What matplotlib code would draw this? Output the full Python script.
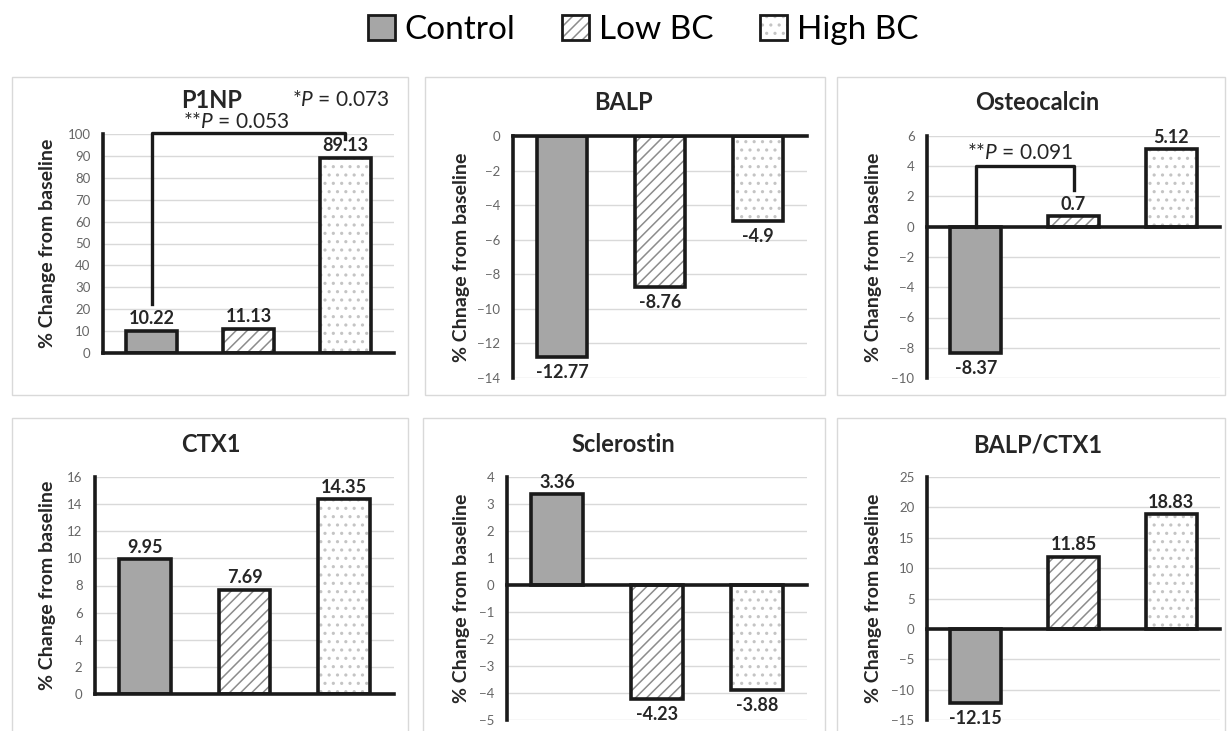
import matplotlib
matplotlib.use("Agg")
import matplotlib.pyplot as plt
from matplotlib.patches import Patch, Rectangle
from matplotlib.legend_handler import HandlerTuple

# ---------------- data ----------------
groups = ["Control", "Low BC", "High BC"]
p1np = [10.22, 11.13, 89.13]
balp = [-12.77, -8.76, -4.9]
osteocalcin = [-8.37, 0.7, 5.12]
ctx1 = [9.95, 7.69, 14.35]
sclerostin = [3.36, -4.23, -3.88]
balp_ctx1 = [-12.15, 11.85, 18.83]

titles = ["P1NP", "BALP", "Osteocalcin", "CTX1", "Sclerostin", "BALP/CTX1"]
ylabels = ["% Change from baseline", "% Chnage from baseline", "% Change from baseline",
           "% Change from baseline", "% Change from baseline", "% Change from baseline"]
yranges = [(0, 100, 10), (-14, 0, 2), (-10, 6, 2), (0, 16, 2), (-5, 4, 1), (-15, 25, 5)]
p_labels = ["*$\\it{P}$ = 0.073", "**$\\it{P}$ = 0.053", "**$\\it{P}$ = 0.091"]

# ---------------- style ----------------
plt.rcParams['font.family'] = ['Lato', 'DejaVu Sans']
plt.rcParams['mathtext.fontset'] = 'custom'
plt.rcParams['mathtext.rm'] = 'Lato'
plt.rcParams['mathtext.it'] = 'Lato:italic'
plt.rcParams['hatch.linewidth'] = 1.1

W, H = 1228, 731
fig = plt.figure(figsize=(W / 100, H / 100), dpi=100)

def fx(x):
    return x / W

def fy(y):
    return 1 - y / H

fills = ['#a6a6a6', 'white', 'white']
hatches = [None, '///', '..']
hatch_cols = ['#a6a6a6', '#8c8c8c', '#c4c4c4']
EDGE = '#1a1a1a'

# panel geometry in pixels: (axis x0, axis x1, y top, y bottom)
geo = [(103, 394, 134, 353), (513, 807, 136, 378), (927, 1220, 136, 378),
       (95, 394, 477, 694), (507, 807, 477, 720), (927, 1220, 477, 720)]
boxes = [(12, 77, 408, 395), (425, 77, 825, 395), (837, 77, 1225, 395),
         (12, 418, 408, 740), (423, 418, 825, 740), (837, 418, 1225, 740)]
title_pos = [(212, 100), (623, 103), (1037, 103), (211, 445), (623, 445), (1038, 445)]
ylabel_x = [47, 462, 873, 47, 462, 873]

data = [p1np, balp, osteocalcin, ctx1, sclerostin, balp_ctx1]
axes = []
for i, vals in enumerate(data):
    bx0, by0, bx1, by1 = boxes[i]
    fig.patches.append(Rectangle((fx(bx0), fy(by1)), fx(bx1 - bx0), (by1 - by0) / H,
                                 transform=fig.transFigure, fill=False,
                                 edgecolor='#d9d9d9', lw=1.0, zorder=0))
    x0, x1, yt, yb = geo[i]
    ax = fig.add_axes([fx(x0), fy(yb), fx(x1 - x0), (yb - yt) / H])
    axes.append(ax)
    lo, hi, st = yranges[i]
    ax.set_ylim(lo, hi)
    ax.set_xlim(-0.5, 2.5)
    ticks = list(range(lo, hi + 1, st))
    ax.set_yticks(ticks)
    ax.yaxis.grid(True, color='#d9d9d9', lw=1.0)
    ax.set_axisbelow(True)
    ax.set_xticks([])
    ax.tick_params(axis='y', length=0, pad=9, labelsize=9.5, labelcolor='#666666')
    for s in ['top', 'right', 'bottom']:
        ax.spines[s].set_visible(False)
    ax.spines['left'].set_linewidth(2.6)
    ax.spines['left'].set_color(EDGE)
    ax.axhline(0, color=EDGE, lw=2.6, zorder=4, clip_on=False)
    xs = range(len(vals))
    for j, v in zip(xs, vals):
        ax.bar(j, v, width=0.52, color=fills[j], hatch=hatches[j],
               edgecolor=hatch_cols[j], lw=0, zorder=2)
        ax.bar(j, v, width=0.52, fill=False, edgecolor=EDGE, lw=2.6, zorder=3)
        lab = str(v)
        if v >= 0:
            ax.annotate(lab, (j, v), xytext=(0, 2.5), textcoords='offset points',
                        ha='center', va='bottom', fontsize=13, fontweight='bold',
                        color='#262626', annotation_clip=False)
        else:
            ax.annotate(lab, (j, v), xytext=(0, -5), textcoords='offset points',
                        ha='center', va='top', fontsize=13, fontweight='bold',
                        color='#262626', annotation_clip=False)
    tx, ty = title_pos[i]
    fig.text(fx(tx), fy(ty), titles[i], ha='center', va='center',
             fontsize=17, fontweight='bold', color='#262626')
    fig.text(fx(ylabel_x[i]), fy((yt + yb) / 2), ylabels[i], rotation=90,
             ha='center', va='center', fontsize=14, fontweight='bold', color='#262626')

# significance brackets
ax = axes[0]
ax.plot([0, 0, 2, 2], [22.5, 100.5, 100.5, 97.5], color=EDGE, lw=2.4, clip_on=False, zorder=5)
fig.text(fx(341), fy(100), p_labels[0], ha='center', va='center', fontsize=15, color='#262626')
fig.text(fx(236), fy(122), p_labels[1], ha='center', va='center', fontsize=15, color='#262626')

ax = axes[2]
ax.plot([0, 0, 1, 1], [0, 4, 4, 2.4], color=EDGE, lw=2.4, clip_on=False, zorder=5)
ax.text(0.45, 4.85, p_labels[2], ha='center', va='center', fontsize=15, color='#262626')

# legend
handles = []
for j in range(3):
    h1 = Patch(facecolor=fills[j], hatch=hatches[j], edgecolor=hatch_cols[j], lw=0)
    h2 = Patch(facecolor='none', edgecolor=EDGE, lw=2.0)
    handles.append((h1, h2))
fig.legend(handles, groups, loc='center', bbox_to_anchor=(fx(643), fy(30)), ncol=3,
           frameon=False, fontsize=24, handlelength=0.8, handleheight=0.8,
           handletextpad=0.3, columnspacing=1.4,
           handler_map={tuple: HandlerTuple(ndivide=1)})

fig.savefig("out.png", dpi=100)
